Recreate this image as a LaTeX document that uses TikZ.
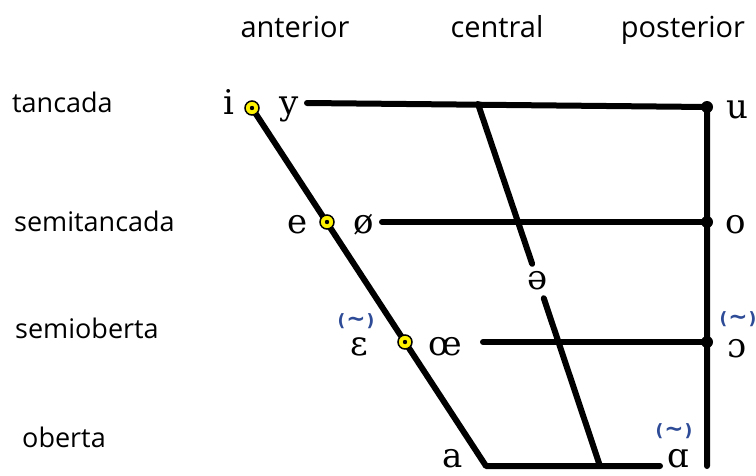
\documentclass[tikz,border=0pt]{standalone}
\usepackage{fontspec}
\setmainfont{Open Sans}
\newfontfamily\ipafont{DejaVu Serif}
\newfontfamily\tilfont{DejaVu Sans}
\usetikzlibrary{backgrounds}
\definecolor{nasalblue}{RGB}{45,75,150}
\tikzset{
  ipa/.style={font=\ipafont\fontsize{34}{34}\selectfont, inner sep=0pt, anchor=base},
  rowlbl/.style={font=\fontsize{27}{27}\selectfont, inner sep=0pt, anchor=base west},
  collbl/.style={font=\fontsize{29}{29}\selectfont, inner sep=0pt, anchor=base},
  nasal/.style={font=\tilfont\fontsize{17}{17}\selectfont\bfseries, text=nasalblue, inner sep=0pt},
  yeldot/.style={circle, draw=black, line width=1.5pt, fill=yellow, minimum size=14pt, inner sep=0pt},
  blkdot/.style={circle, fill=black, minimum size=12pt, inner sep=0pt},
  vline/.style={line width=6pt, line cap=round, line join=round},
}
\newcommand{\nastil}{(\hspace{1pt}{\fontsize{23}{23}\selectfont ∼}\hspace{1pt})}
\begin{document}
\begin{tikzpicture}[x=1pt, y=-1pt]
    \useasboundingbox (0,0) rectangle (756,475);
    % columnes
    \node[collbl] (ant) at (295,37) {anterior};
    \node[collbl] (cen) at (497,37) {central};
    \node[collbl] (pos) at (683,37) {posterior};

    % files
    \node[rowlbl] (tan) at (12,112) {tancada};
    \node[rowlbl] (stan) at (14,231) {semitancada};
    \node[rowlbl] (sobe) at (15,338) {semioberta};
    \node[rowlbl] (obe) at (22,447) {oberta};

    % vocals
    \node[ipa] (vi) at (229,114) {i};
    \node[ipa] (vy) at (289,114) {y};
    \node[ipa] (vu) at (737,118) {u};
    \node[ipa] (ve) at (298,233) {e};
    \node[ipa] (voe) at (364,233) {ø};
    \node[ipa] (vo) at (736,233) {o};
    \node[ipa] (veps) at (359,355) {ɛ};
    \node[ipa] (voelig) at (445,355) {œ};
    \node[ipa] (vopen) at (737,357) {ɔ};
    \node[ipa] (va) at (453,467) {a};
    \node[ipa] (valpha) at (678,467) {ɑ};
    \node[circle, minimum size=36pt, inner sep=0pt, font=\ipafont\fontsize{34}{34}\selectfont] (schwa) at (538,281) {ə};

    % nasals
    \node[nasal] (neps) at (356,321) {\nastil};
    \node[nasal] (nopen) at (738,319) {\nastil};
    \node[nasal] (nalpha) at (674,431) {\nastil};

    % punts
    \node[yeldot] (idot) at (252,108) {};
    \node[yeldot] (edot) at (327,222) {};
    \node[yeldot] (oedot) at (405,342) {};
    \foreach \d in {idot,edot,oedot}
        \fill (\d) circle (2.2pt);
    \node[blkdot] (udot) at (707,107) {};
    \node[blkdot] (odot) at (707,222) {};
    \node[blkdot] (opdot) at (707,342) {};

    \coordinate (ystart) at (307,103);
    \coordinate (ostart) at (382,222);
    \coordinate (oestart) at (483,342);
    \coordinate (acorner) at (486,466);
    \coordinate (aend) at (660,466);
    \coordinate (ctop) at (478,104);
    \coordinate (cbot) at (600,466);
    \coordinate (pbot) at (707,466);

    % trapezi
    \begin{pgfonlayer}{background}
        \draw[vline] (ystart) -- (udot.center) -- (pbot);
        \draw[vline] (ostart) -- (odot.center);
        \draw[vline] (oestart) -- (opdot.center);
        \draw[vline] (idot.center) -- (acorner) -- (aend);
        \draw[vline] (ctop) -- (schwa);
        \draw[vline] (schwa) -- (cbot);
    \end{pgfonlayer}
\end{tikzpicture}
\end{document}
